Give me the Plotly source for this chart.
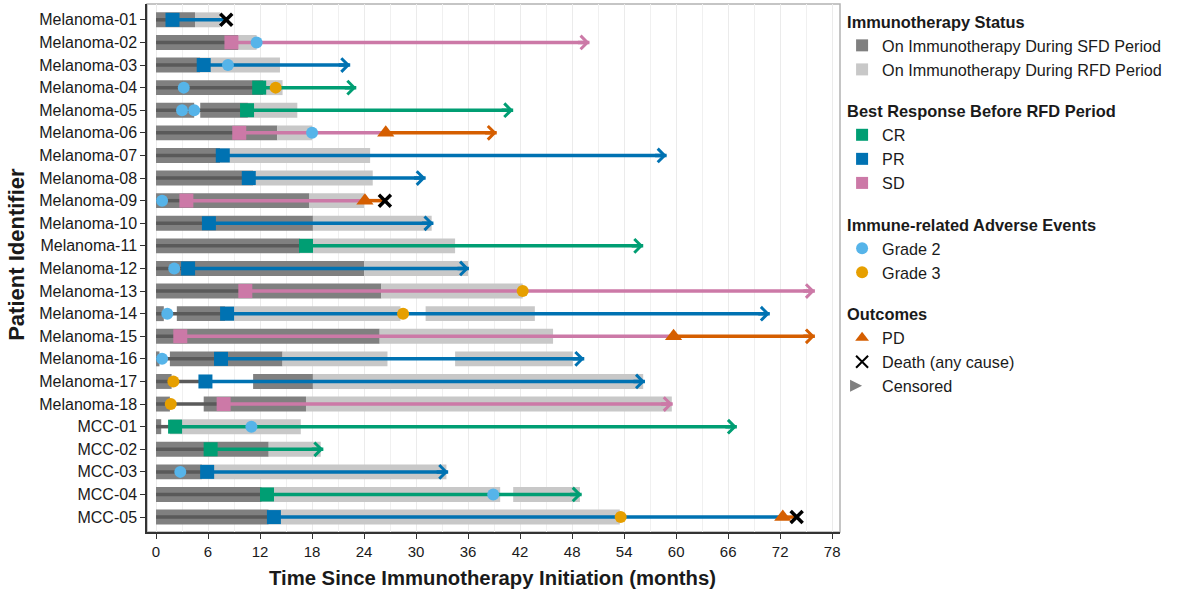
import plotly.graph_objects as go

patients = ["Melanoma-01", "Melanoma-02", "Melanoma-03", "Melanoma-04", "Melanoma-05",
            "Melanoma-06", "Melanoma-07", "Melanoma-08", "Melanoma-09", "Melanoma-10",
            "Melanoma-11", "Melanoma-12", "Melanoma-13", "Melanoma-14", "Melanoma-15",
            "Melanoma-16", "Melanoma-17", "Melanoma-18", "MCC-01", "MCC-02", "MCC-03",
            "MCC-04", "MCC-05"]

# Immunotherapy during SFD period (segments)
sfd_patient = ["Melanoma-01", "Melanoma-02", "Melanoma-03", "Melanoma-04", "Melanoma-05", "Melanoma-05",
               "Melanoma-06", "Melanoma-07", "Melanoma-08", "Melanoma-09", "Melanoma-10",
               "Melanoma-11", "Melanoma-12", "Melanoma-13", "Melanoma-14", "Melanoma-14",
               "Melanoma-15", "Melanoma-16", "Melanoma-16", "Melanoma-17", "Melanoma-17",
               "Melanoma-18", "Melanoma-18", "MCC-01", "MCC-02", "MCC-03", "MCC-04", "MCC-05"]
sfd_start = [0, 0, 0, 0, 0, 5.1, 0, 0, 0, 0, 0, 0, 0, 0, 0, 2.4, 0, 0, 1.6, 0, 11.2, 0, 5.5, 0, 0, 0, 0, 0]
sfd_end = [4.5, 9.5, 5.1, 12.4, 4.4, 10.6, 14.0, 7.4, 11.2, 17.7, 18.1, 16.6, 24.0, 26.0, 0.9, 8.0,
           25.8, 0.4, 14.6, 1.8, 18.1, 1.6, 17.3, 0.6, 13.0, 5.3, 12.2, 13.0]

# Immunotherapy during RFD period (segments)
rfd_patient = ["Melanoma-01", "Melanoma-02", "Melanoma-03", "Melanoma-04", "Melanoma-05",
               "Melanoma-06", "Melanoma-07", "Melanoma-08", "Melanoma-09", "Melanoma-10",
               "Melanoma-11", "Melanoma-12", "Melanoma-13", "Melanoma-14", "Melanoma-14",
               "Melanoma-15", "Melanoma-16", "Melanoma-16", "Melanoma-17", "Melanoma-18",
               "MCC-01", "MCC-02", "MCC-03", "MCC-04", "MCC-04", "MCC-05"]
rfd_start = [4.5, 9.5, 5.1, 12.4, 10.6, 14.0, 7.4, 11.2, 17.7, 18.1, 16.6, 24.0, 26.0, 8.0, 31.1,
             25.8, 14.6, 34.5, 18.1, 17.3, 1.6, 13.0, 5.3, 12.2, 41.2, 13.0]
rfd_end = [7.4, 11.6, 14.3, 14.6, 16.3, 18.0, 24.7, 25.0, 24.0, 31.8, 34.5, 36.0, 42.3, 28.2, 43.7,
           45.8, 26.7, 48.1, 56.2, 59.5, 16.7, 19.0, 33.5, 39.7, 48.9, 53.5]

# Best response before RFD period (one per patient)
resp_time = [1.9, 8.7, 5.5, 11.9, 10.5, 9.6, 7.7, 10.7, 3.5, 6.1, 17.3, 3.7, 10.3, 8.2, 2.8,
             7.5, 5.7, 7.8, 2.2, 6.3, 5.9, 12.8, 13.6]
resp_type = ["PR", "SD", "PR", "CR", "CR", "SD", "PR", "PR", "SD", "PR", "CR", "PR", "SD", "PR", "SD",
             "PR", "PR", "SD", "CR", "CR", "PR", "CR", "PR"]

# Last follow-up and censoring (one per patient)
last_followup = [8.1, 50.0, 22.4, 23.1, 41.2, 39.3, 58.9, 31.1, 26.4, 32.0, 56.2, 36.1, 76.0, 70.8,
                 76.0, 49.4, 56.4, 59.6, 67.0, 19.3, 33.7, 49.1, 73.9]
censored = [False, True, True, True, True, True, True, True, False, True, True, True, True, True,
            True, True, True, True, True, True, True, True, False]

# Immune-related adverse events
g2_patient = ["Melanoma-02", "Melanoma-03", "Melanoma-04", "Melanoma-05", "Melanoma-05", "Melanoma-06",
              "Melanoma-09", "Melanoma-12", "Melanoma-14", "Melanoma-16", "MCC-01", "MCC-03", "MCC-04"]
g2_time = [11.6, 8.3, 3.2, 3.0, 4.4, 18.0, 0.7, 2.1, 1.3, 0.7, 11.0, 2.8, 38.9]
g3_patient = ["Melanoma-04", "Melanoma-13", "Melanoma-14", "Melanoma-17", "Melanoma-18", "MCC-05"]
g3_time = [13.8, 42.3, 28.5, 2.0, 1.7, 53.6]

# Outcomes
pd_patient = ["Melanoma-06", "Melanoma-09", "Melanoma-15", "MCC-05"]
pd_time = [26.5, 24.1, 59.7, 72.3]
death_patient = ["Melanoma-01", "Melanoma-09", "MCC-05"]
death_time = [8.1, 26.4, 73.9]

x_ticks = list(range(0, 79, 6))

# ---------------- styling ----------------
RESP_COL = {"CR": "#009E73", "PR": "#0072B2", "SD": "#CC79A7"}
PD_COL = "#D55E00"
G2_COL = "#56B4E9"
G3_COL = "#E69F00"
SFD_COL = "#808080"
RFD_COL = "#c8c8c8"
PRE_COL = "#5a5a5a"
TXT = "#1a1a1a"
FONT = "Liberation Sans, Arial, sans-serif"
BAR_W = 0.66
LINE_W = 3.5

fig = go.Figure()

fig.add_trace(go.Bar(
    y=sfd_patient, base=sfd_start, x=[e - s for s, e in zip(sfd_start, sfd_end)],
    orientation="h", width=BAR_W, marker=dict(color=SFD_COL, line=dict(width=0)),
    name="On Immunotherapy During SFD Period", legendgroup="status",
    legendgrouptitle=dict(text="Immunotherapy Status"), hoverinfo="skip"))
fig.add_trace(go.Bar(
    y=rfd_patient, base=rfd_start, x=[e - s for s, e in zip(rfd_start, rfd_end)],
    orientation="h", width=BAR_W, marker=dict(color=RFD_COL, line=dict(width=0)),
    name="On Immunotherapy During RFD Period", legendgroup="status", hoverinfo="skip"))

# pre-response line (dark gray)
px, py = [], []
for p, t in zip(patients, resp_time):
    px += [0, t, None]
    py += [p, p, None]
fig.add_trace(go.Scatter(x=px, y=py, mode="lines", line=dict(color=PRE_COL, width=LINE_W),
                         showlegend=False, hoverinfo="skip"))

pd_map = dict(zip(pd_patient, pd_time))

# post-response lines, coloured by response
for rt in ["CR", "PR", "SD"]:
    lx, ly = [], []
    for p, t, r, end in zip(patients, resp_time, resp_type, last_followup):
        if r != rt:
            continue
        stop = pd_map.get(p, end)
        lx += [t, stop, None]
        ly += [p, p, None]
    fig.add_trace(go.Scatter(x=lx, y=ly, mode="lines", line=dict(color=RESP_COL[rt], width=LINE_W),
                             showlegend=False, hoverinfo="skip"))

# post-progression lines
lx, ly = [], []
for p, t in zip(pd_patient, pd_time):
    end = last_followup[patients.index(p)]
    lx += [t, end, None]
    ly += [p, p, None]
fig.add_trace(go.Scatter(x=lx, y=ly, mode="lines", line=dict(color=PD_COL, width=LINE_W),
                         showlegend=False, hoverinfo="skip"))

# censoring arrows
annotations = []
for p, r, end, c in zip(patients, resp_type, last_followup, censored):
    if not c:
        continue
    col = PD_COL if p in pd_map else RESP_COL[r]
    annotations.append(dict(x=end, y=p, ax=end - 1.5, ay=p, xref="x", yref="y", axref="x", ayref="y",
                            text="", showarrow=True, arrowhead=4, arrowsize=0.75, arrowwidth=3.5,
                            arrowcolor=col, standoff=0))

# axis titles
annotations.append(dict(text="<b>Time Since Immunotherapy Initiation (months)</b>", xref="paper",
                        yref="paper", x=0.499, y=0, xanchor="center", yanchor="middle", yshift=-46,
                        showarrow=False, font=dict(size=20.3, family=FONT, color=TXT)))
annotations.append(dict(text="<b>Patient Identifier</b>", xref="paper", yref="paper", x=0,
                        y=0.525, xanchor="center", yanchor="middle", xshift=-130, textangle=-90,
                        showarrow=False, font=dict(size=22, family=FONT, color=TXT)))

# response markers
first = True
for rt in ["CR", "PR", "SD"]:
    xs = [t for t, r in zip(resp_time, resp_type) if r == rt]
    ys = [p for p, r in zip(patients, resp_type) if r == rt]
    fig.add_trace(go.Scatter(
        x=xs, y=ys, mode="markers", name=rt,
        marker=dict(symbol="square", size=14, color=RESP_COL[rt], line=dict(width=0)),
        legendgroup="resp",
        legendgrouptitle=dict(text="Best Response Before RFD Period") if first else None,
        hoverinfo="skip"))
    first = False

fig.add_trace(go.Scatter(x=g2_time, y=g2_patient, mode="markers", name="Grade 2",
                         marker=dict(symbol="circle", size=12, color=G2_COL, line=dict(width=0)),
                         legendgroup="irae",
                         legendgrouptitle=dict(text="Immune-related Adverse Events"), hoverinfo="skip"))
fig.add_trace(go.Scatter(x=g3_time, y=g3_patient, mode="markers", name="Grade 3",
                         marker=dict(symbol="circle", size=12, color=G3_COL, line=dict(width=0)),
                         legendgroup="irae", hoverinfo="skip"))

fig.add_trace(go.Scatter(x=pd_time, y=pd_patient, mode="markers", name="PD",
                         marker=dict(symbol="triangle-up", size=15, color=PD_COL, line=dict(width=0)),
                         legendgroup="out", legendgrouptitle=dict(text="Outcomes"), hoverinfo="skip"))
fig.add_trace(go.Scatter(x=death_time, y=death_patient, mode="markers", name="Death (any cause)",
                         marker=dict(symbol="x-thin", size=12, color="black",
                                     line=dict(width=3.5, color="black")),
                         legendgroup="out", hoverinfo="skip"))
fig.add_trace(go.Scatter(x=[None], y=[None], mode="markers", name="Censored",
                         marker=dict(symbol="arrow-right", size=12, color="#808080", line=dict(width=0)),
                         legendgroup="out", hoverinfo="skip"))

fig.update_layout(
    width=1181, height=593,
    margin=dict(l=147, r=341, t=4, b=61),
    paper_bgcolor="white", plot_bgcolor="white",
    barmode="overlay",
    font=dict(family=FONT, color=TXT),
    annotations=annotations,
    legend=dict(x=1.003, y=1.0, xanchor="left", yanchor="top", traceorder="grouped",
                tracegroupgap=17, font=dict(size=16.2, family=FONT, color=TXT),
                grouptitlefont=dict(size=16.4, family=FONT, weight="bold", color=TXT),
                itemsizing="constant", bgcolor="rgba(0,0,0,0)"),
    xaxis=dict(range=[-1.04, 78.9], tickvals=x_ticks, ticks="outside", ticklen=5, tickwidth=1,
               tickcolor="#333333", showline=True, linecolor="#333333", linewidth=1.5,
               showgrid=True, gridcolor="#ebebeb", gridwidth=1,
               minor=dict(dtick=3, tick0=0, showgrid=True, gridcolor="#f0f0f0", gridwidth=1),
               zeroline=False, automargin=False,
               tickfont=dict(size=15, family=FONT, color=TXT)),
    yaxis=dict(type="category", categoryorder="array", categoryarray=patients,
               range=[22.66, -0.7], ticks="outside", ticklen=5, tickwidth=1, tickcolor="#333333",
               showline=True, linecolor="#333333", linewidth=1.5, showgrid=False, zeroline=False,
               automargin=False, tickfont=dict(size=16, family=FONT, color=TXT)),
    shapes=[dict(type="rect", xref="paper", yref="paper", x0=0, x1=1, y0=0, y1=1,
                 line=dict(color="#b3b3b3", width=1.5), fillcolor="rgba(0,0,0,0)", layer="below")],
)

fig.write_html("out.html", config={"displayModeBar": False},
               post_script="document.body.style.margin='0px';")
